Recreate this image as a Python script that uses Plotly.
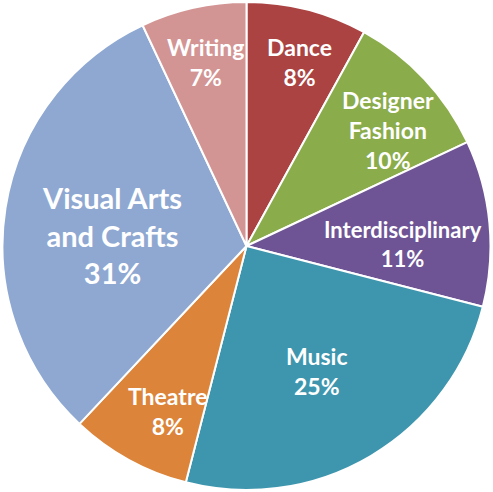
import math
import plotly.graph_objects as go

categories = ["Dance", "Designer Fashion", "Interdisciplinary", "Music", "Theatre", "Visual Arts and Crafts", "Writing"]
display_labels = ["Dance", "Designer<br>Fashion", "Interdisciplinary", "Music", "Theatre", "Visual Arts<br>and Crafts", "Writing"]
values = [8, 10, 11, 25, 8, 31, 7]
colors = ["#AA4342", "#8BAC4B", "#6E5495", "#3E96AE", "#DC8439", "#8EA8D2", "#D39494"]

# label placement styling (radial fraction, angular nudge in degrees, font size)
label_radius = [0.785, 0.75, 0.64, 0.59, 0.75, 0.553, 0.773]
label_nudge = [1.8, 3.9, 4.7, 1.2, -3.1, -4.3, 0.0]
label_size = [23, 23, 22, 23, 23, 29, 23]

W, H = 493, 492
cx, cy, R = 246.5, 246.0, 244.0

fig = go.Figure(go.Pie(
    labels=categories,
    values=values,
    textinfo="none",
    hoverinfo="label+percent",
    marker=dict(colors=colors, line=dict(color="white", width=2)),
    sort=False,
    direction="clockwise",
    rotation=0,
    showlegend=False,
    domain=dict(x=[(cx - R) / W, (cx + R) / W], y=[(H - cy - R) / H, (H - cy + R) / H]),
))

total = sum(values)
cum = 0
annotations = []
for i, v in enumerate(values):
    theta = math.radians(360.0 * (cum + v / 2) / total + label_nudge[i])
    cum += v
    px = cx + label_radius[i] * R * math.sin(theta)
    py = cy - label_radius[i] * R * math.cos(theta)
    pct = round(100 * v / total)
    annotations.append(dict(
        x=px / W, y=1 - py / H, xref="paper", yref="paper",
        text=f"<b>{display_labels[i]}<br>{pct}%</b>",
        showarrow=False, xanchor="center", yanchor="middle",
        font=dict(family="Lato, Open Sans, sans-serif", size=label_size[i], color="white"),
    ))

fig.update_layout(
    width=W, height=H,
    margin=dict(l=0, r=0, t=0, b=0),
    paper_bgcolor="white",
    annotations=annotations,
)
fig.write_html(
    "out.html",
    config={"displayModeBar": False},
    post_script="document.body.style.margin='0';document.body.style.overflow='hidden';",
)
